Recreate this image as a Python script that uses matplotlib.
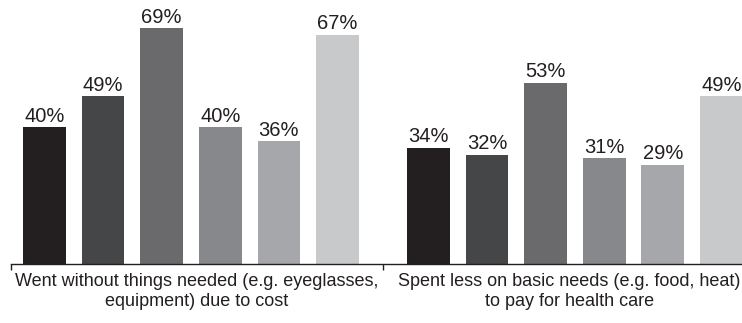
import matplotlib.pyplot as plt
import numpy as np

# Data
groups = [
    "Went without things needed (e.g. eyeglasses,\nequipment) due to cost",
    "Spent less on basic needs (e.g. food, heat)\nto pay for health care",
]
went_without = [40, 49, 69, 40, 36, 67]
spent_less = [34, 32, 53, 31, 29, 49]
bar_colors = ["#231f20", "#454648", "#6a6a6c", "#87888b", "#a6a7aa", "#c8c9cb"]

plt.rcParams["font.family"] = ["Liberation Sans Narrow", "Liberation Sans", "DejaVu Sans"]
plt.rcParams["font.stretch"] = "condensed"

fig = plt.figure(figsize=(7.42, 3.23), dpi=100)
ax = fig.add_axes([11 / 742, 59 / 323, 731 / 742, 264 / 323])

group_gap = 6.55
bar_width = 0.73
for g, values in enumerate([went_without, spent_less]):
    x = np.arange(len(values)) + g * group_gap
    bars = ax.bar(x, values, width=bar_width, color=bar_colors)
    for b, v in zip(bars, values):
        ax.annotate(f"{v}%", (b.get_x() + b.get_width() / 2, v),
                    xytext=(0, 1.0), textcoords="offset points",
                    ha="center", va="bottom", fontsize=14.5, color="#231f20")

# group separators on the baseline
left_edge = -0.57
mid = 5.78
right_edge = mid + (mid - left_edge)
ax.set_xlim(left_edge, 11.9)
ax.set_ylim(0, 77.2)

ax.set_xticks([left_edge, mid])
ax.set_xticklabels([])
ax.tick_params(axis="x", direction="out", length=4.5, width=1, color="#231f20")
ax.set_yticks([])
for s in ["top", "right", "left"]:
    ax.spines[s].set_visible(False)
ax.spines["bottom"].set_linewidth(1)
ax.spines["bottom"].set_color("#231f20")

centers = [(left_edge + mid) / 2, (mid + right_edge) / 2]
for c, label in zip(centers, groups):
    ax.text(c, -2.6, label, ha="center", va="top", fontsize=13,
            color="#231f20", linespacing=1.25, clip_on=False)

fig.savefig("out.png", dpi=100)
